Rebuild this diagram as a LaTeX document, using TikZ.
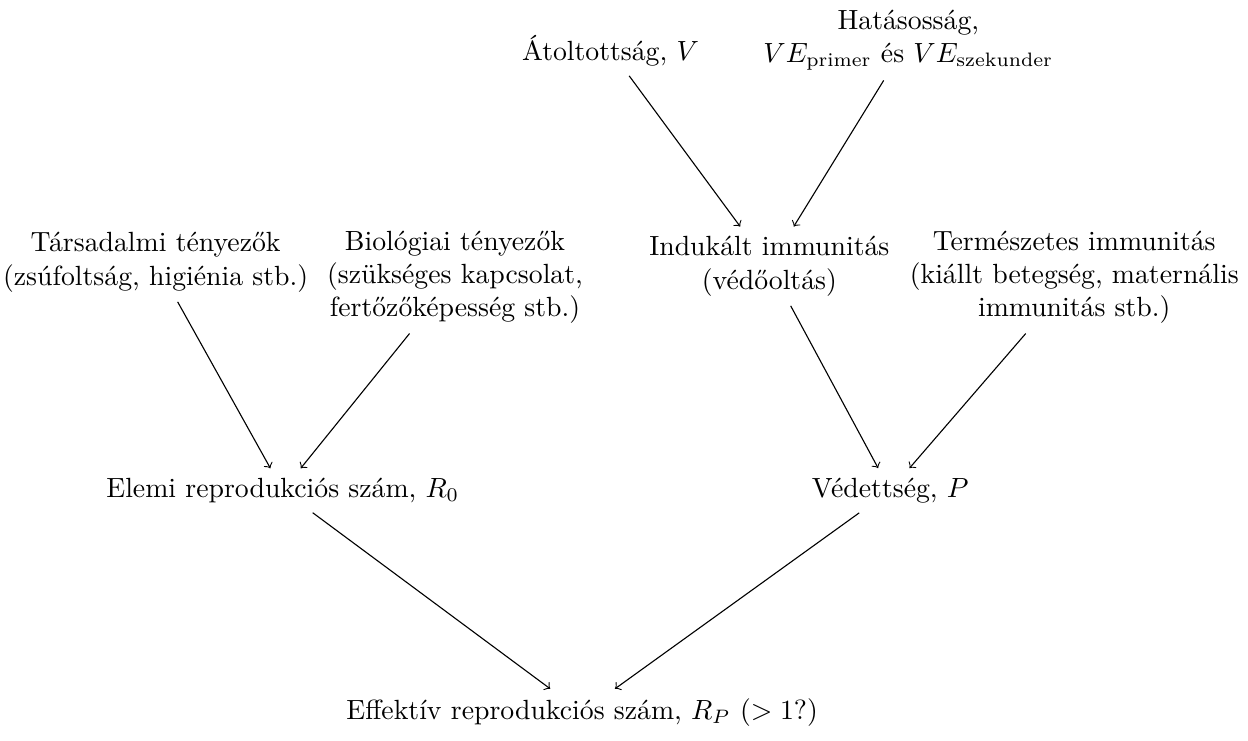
\documentclass[tikz,border=0pt]{standalone}
\usepackage{tikz}
\usetikzlibrary{arrows, positioning, calc}
\usepackage{amsmath}

\begin{document}
\begin{tikzpicture}[
    box/.style={align=center},
    arrow/.style={->}
]
    \useasboundingbox (0,0) rectangle (15.8,9.37);

    % Top row
    \node[box] (coverage) at (7.73,8.73) {\'Atoltotts\'ag, $V$};
    \node[box] (efficacy) at (11.50,8.86) {Hat\'asoss\'ag,\\$VE_{\text{primer}}$ \'es $VE_{\text{szekunder}}$};

    % Factors
    \node[box] (social) at (1.97,6.05) {T\'arsadalmi t\'enyez\H{o}k\\(zs\'ufolts\'ag, higi\'enia stb.)};
    \node[box] (biological) at (5.76,5.86) {Biol\'ogiai t\'enyez\H{o}k\\(sz\"uks\'eges kapcsolat,\\fert\H{o}z\H{o}k\'epess\'eg stb.)};
    \node[box] (induced) at (9.74,6.00) {Induk\'alt immunit\'as\\(v\'ed\H{o}olt\'as)};
    \node[box] (natural) at (13.60,5.86) {Term\'eszetes immunit\'as\\(ki\'allt betegs\'eg, matern\'alis\\immunit\'as stb.)};

    % Middle row
    \node[box] (basic) at (3.58,3.16) {Elemi reprodukci\'os sz\'am, $R_0$};
    \node[box] (protection) at (11.27,3.16) {V\'edetts\'eg, $P$};

    % Output
    \node[box] (effective) at (7.37,0.35) {Effekt\'iv reprodukci\'os sz\'am, $R_P$ ($>1$?)};

    % Arrows
    \draw[arrow] (coverage) -- (induced);
    \draw[arrow] (efficacy) -- (induced);
    \draw[arrow] (social) -- (basic);
    \draw[arrow] (biological) -- (basic);
    \draw[arrow] (induced) -- (protection);
    \draw[arrow] (natural) -- (protection);
    \draw[arrow] (basic) -- (effective);
    \draw[arrow] (protection) -- (effective);

\end{tikzpicture}
\end{document}
